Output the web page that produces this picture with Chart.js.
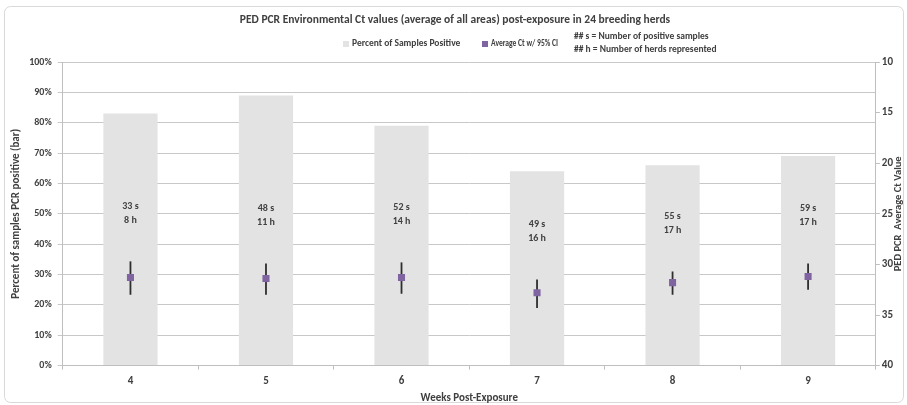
<!DOCTYPE html>
<html>
<head>
<meta charset="utf-8">
<script src="https://cdn.jsdelivr.net/npm/chart.js@4.4.1/dist/chart.umd.min.js"></script>
<style>
  html, body { margin: 0; padding: 0; background: #fff; }
  #wrap { width: 907px; height: 405px; }
</style>
</head>
<body>
<div id="wrap"><canvas id="myChart" width="907" height="405"></canvas></div>
<script>
var weeks = ['4', '5', '6', '7', '8', '9'];
var pctPositive = [83, 89, 79, 64, 66, 69];
var ctMean = [31.3, 31.4, 31.3, 32.8, 31.8, 31.2];
var ctLower = [29.7, 29.9, 29.8, 31.5, 30.7, 29.9];
var ctUpper = [33.0, 33.0, 32.9, 34.3, 33.0, 32.5];
var samples = [33, 48, 52, 49, 55, 59];
var herds = [8, 11, 14, 16, 17, 17];

var FONT = 'Carlito, "Liberation Sans Narrow", "Liberation Sans", sans-serif';
var TXT = '#404040';
var BAR = '#e3e3e3';
var PURPLE = '#8064a2';

// frame, title, legend, right axis title, CI whiskers and s/h labels
var decor = {
  id: 'decor',
  beforeDraw: function(chart) {
    var c = chart.ctx;
    c.save();
    c.fillStyle = '#fff';
    c.fillRect(0, 0, chart.width, chart.height);
    c.strokeStyle = '#d9d9d9';
    c.lineWidth = 1;
    c.beginPath();
    c.roundRect(4.5, 6.5, 899, 396, 6);
    c.stroke();

    c.fillStyle = TXT;
    c.textBaseline = 'middle';
    c.textAlign = 'center';
    c.font = 'bold 11.5px ' + FONT;
    c.fillText('PED PCR Environmental Ct values (average of all areas) post-exposure in 24 breeding herds', 455, 20);

    c.font = 'bold 9.5px ' + FONT;
    c.textAlign = 'left';
    c.fillStyle = BAR;
    c.fillRect(343, 41, 6, 6);
    c.fillStyle = TXT;
    c.fillText('Percent of Samples Positive', 352, 44, 114);
    c.fillStyle = PURPLE;
    c.fillRect(482, 41, 6, 6);
    c.fillStyle = TXT;
    c.fillText('Average Ct w/ 95% CI', 491, 44, 67);
    c.fillText('## s = Number of positive samples', 574, 37, 138);
    c.fillText('## h = Number of herds represented', 574, 50, 148);

    var a = chart.chartArea;
    c.save();
    c.translate(898, (a.top + a.bottom) / 2);
    c.rotate(-Math.PI / 2);
    c.textAlign = 'center';
    c.font = 'bold 10.5px ' + FONT;
    c.fillText('PED PCR  Average Ct Value', 0, 0);
    c.restore();
    c.restore();
  },
  afterDatasetDraw: function(chart, args) {
    if (args.index !== 0) return;
    var c = chart.ctx;
    var x = chart.scales.x, y1 = chart.scales.y1;
    c.save();
    c.strokeStyle = '#2e2e2e';
    c.lineWidth = 1.8;
    for (var i = 0; i < weeks.length; i++) {
      var px = x.getPixelForValue(i);
      c.beginPath();
      c.moveTo(px, y1.getPixelForValue(ctLower[i]));
      c.lineTo(px, y1.getPixelForValue(ctUpper[i]));
      c.stroke();
    }
    c.restore();
  },
  afterDatasetsDraw: function(chart) {
    var c = chart.ctx;
    var x = chart.scales.x, y1 = chart.scales.y1;
    c.save();
    c.fillStyle = TXT;
    c.font = 'bold 10px ' + FONT;
    c.textAlign = 'center';
    c.textBaseline = 'middle';
    for (var i = 0; i < weeks.length; i++) {
      var px = x.getPixelForValue(i);
      var top = y1.getPixelForValue(ctLower[i]);
      c.fillText(samples[i] + ' s', px, top - 55);
      c.fillText(herds[i] + ' h', px, top - 41);
    }
    c.restore();
  }
};

var ctx = document.getElementById('myChart').getContext('2d');
var myChart = new Chart(ctx, {
  type: 'bar',
  data: {
    labels: weeks,
    datasets: [{
      type: 'bar',
      label: 'Percent of Samples Positive',
      data: pctPositive,
      backgroundColor: BAR,
      barPercentage: 0.4,
      categoryPercentage: 1,
      yAxisID: 'y',
      order: 1
    },
    {
      type: 'line',
      label: 'Average Ct w/ 95% CI',
      data: ctMean,
      showLine: false,
      pointStyle: 'rect',
      pointRadius: 5,
      backgroundColor: PURPLE,
      borderColor: PURPLE,
      borderWidth: 0,
      yAxisID: 'y1',
      order: 0
    }]
  },
  options: {
    responsive: false,
    animation: false,
    layout: { padding: { top: 62, left: 10, right: 12, bottom: 0 } },
    plugins: {
      legend: { display: false },
      tooltip: { enabled: false }
    },
    scales: {
      x: {
        grid: { display: true, drawOnChartArea: false, offset: true, color: '#bfbfbf', tickLength: 4 },
        border: { color: '#bfbfbf' },
        ticks: { color: TXT, font: { family: FONT, size: 11, weight: 'bold' }, padding: 5 },
        title: { display: true, text: 'Weeks Post-Exposure', color: TXT, font: { family: FONT, size: 11, weight: 'bold' }, padding: { top: -1, bottom: 0 } }
      },
      y: {
        position: 'left',
        min: 0,
        max: 100,
        ticks: { stepSize: 10, color: TXT, font: { family: FONT, size: 10, weight: 'bold' }, padding: 6, callback: function(v) { return v + '%'; } },
        grid: { color: '#c8c8c8', tickLength: 5 },
        border: { color: '#bfbfbf' },
        title: { display: true, text: 'Percent of samples PCR positive (bar)', color: TXT, font: { family: FONT, size: 11, weight: 'bold' }, padding: { top: 0, bottom: 0 } }
      },
      y1: {
        position: 'right',
        reverse: true,
        min: 10,
        max: 40,
        ticks: { stepSize: 5, color: TXT, font: { family: FONT, size: 11, weight: 'bold' }, padding: 2 },
        grid: { drawOnChartArea: false, color: '#bfbfbf', tickLength: 4 },
        border: { color: '#bfbfbf' },
        title: { display: false }
      }
    }
  },
  plugins: [decor]
});
</script>
</body>
</html>
